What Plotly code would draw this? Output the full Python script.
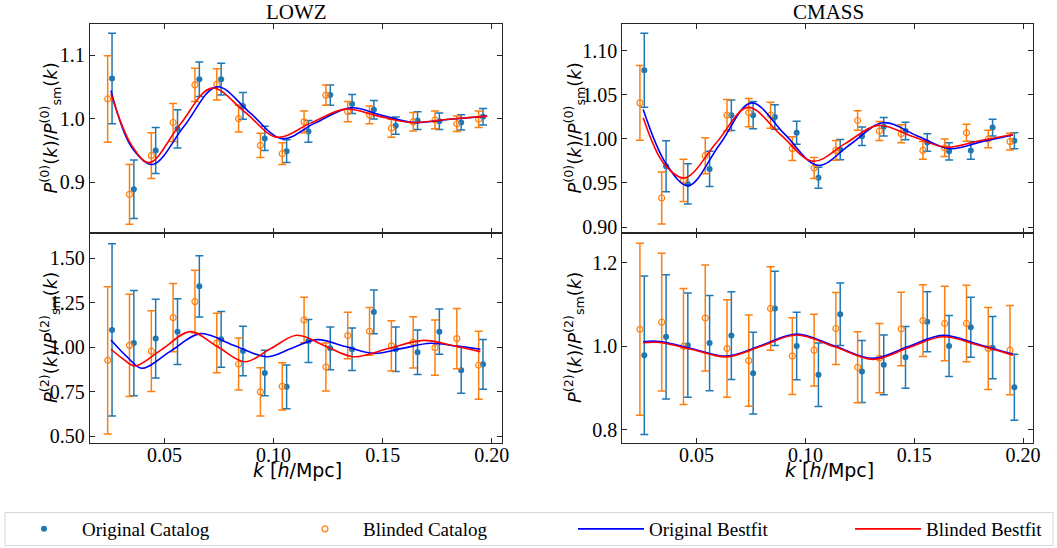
import plotly.graph_objects as go

# ---------------- data ----------------
k_orig = [0.026 + 0.01 * i for i in range(18)]
k_blind = [0.024 + 0.01 * i for i in range(18)]

# LOWZ monopole
lowz0_orig = [1.063, 0.889, 0.950, 0.984, 1.062, 1.062, 1.020, 0.969, 0.949, 0.980, 1.037, 1.023, 1.014, 0.989, 0.997, 0.996, 0.994, 1.003]
lowz0_orig_err = [0.071, 0.046, 0.036, 0.030, 0.027, 0.025, 0.021, 0.019, 0.018, 0.017, 0.016, 0.015, 0.0145, 0.0135, 0.014, 0.013, 0.012, 0.013]
lowz0_blind = [1.031, 0.881, 0.942, 0.994, 1.053, 1.054, 1.000, 0.958, 0.945, 0.995, 1.037, 1.011, 1.006, 0.985, 0.995, 0.998, 0.992, 0.999]
lowz0_blind_err = [0.068, 0.047, 0.036, 0.030, 0.026, 0.0245, 0.021, 0.019, 0.017, 0.017, 0.016, 0.016, 0.014, 0.014, 0.0145, 0.014, 0.012, 0.013]

# CMASS monopole
cmass0_orig = [1.078, 0.969, 0.949, 0.966, 1.027, 1.027, 1.025, 1.007, 0.956, 0.988, 1.003, 1.014, 1.009, 0.996, 0.986, 0.987, 1.013, 0.998]
cmass0_orig_err = [0.042, 0.029, 0.023, 0.020, 0.0174, 0.0155, 0.014, 0.013, 0.012, 0.0115, 0.0105, 0.0105, 0.010, 0.0098, 0.0098, 0.010, 0.0095, 0.009]
cmass0_blind = [1.041, 0.933, 0.953, 0.981, 1.027, 1.030, 1.027, 0.989, 0.967, 0.987, 1.021, 1.009, 1.006, 0.987, 0.990, 1.007, 1.000, 0.997]
cmass0_blind_err = [0.0425, 0.0295, 0.024, 0.0205, 0.0178, 0.016, 0.0147, 0.0135, 0.012, 0.0113, 0.011, 0.0108, 0.0103, 0.010, 0.010, 0.0096, 0.010, 0.0095]

# LOWZ quadrupole
lowz2_orig = [1.098, 1.024, 1.049, 1.088, 1.343, 1.045, 0.979, 0.856, 0.778, 1.036, 0.994, 0.989, 1.199, 0.989, 0.972, 1.088, 0.871, 0.904]
lowz2_orig_err = [0.485, 0.296, 0.222, 0.185, 0.172, 0.157, 0.139, 0.128, 0.123, 0.121, 0.120, 0.120, 0.123, 0.125, 0.125, 0.127, 0.129, 0.140]
lowz2_blind = [0.927, 1.011, 0.978, 1.167, 1.257, 1.024, 0.906, 0.749, 0.780, 1.154, 0.889, 1.066, 1.090, 1.008, 1.028, 0.998, 1.049, 0.899]
lowz2_blind_err = [0.414, 0.288, 0.227, 0.192, 0.177, 0.167, 0.146, 0.136, 0.133, 0.128, 0.135, 0.131, 0.134, 0.141, 0.144, 0.155, 0.169, 0.191]

# CMASS quadrupole
cmass2_orig = [0.978, 1.022, 1.002, 1.007, 1.025, 0.935, 1.090, 1.000, 0.931, 1.076, 0.939, 0.955, 0.973, 1.058, 1.000, 1.045, 0.996, 0.901]
cmass2_orig_err = [0.190, 0.149, 0.125, 0.114, 0.105, 0.098, 0.089, 0.081, 0.076, 0.075, 0.074, 0.0715, 0.074, 0.072, 0.073, 0.072, 0.0745, 0.079]
cmass2_blind = [1.040, 1.057, 0.999, 1.067, 0.994, 0.965, 1.090, 0.976, 0.990, 1.042, 0.949, 0.971, 1.041, 1.061, 1.054, 1.054, 0.994, 0.990]
cmass2_blind_err = [0.206, 0.165, 0.139, 0.127, 0.117, 0.109, 0.100, 0.092, 0.086, 0.086, 0.085, 0.083, 0.088, 0.086, 0.089, 0.0915, 0.098, 0.107]

# best-fit curves
lowz0_fit_k_o = [0.0255, 0.035, 0.0446, 0.059, 0.074, 0.089, 0.1038, 0.119, 0.1352, 0.150, 0.1642, 0.181, 0.1979]
lowz0_fit_o = [1.044, 0.955, 0.928, 0.988, 1.050, 1.010, 0.9686, 0.993, 1.017, 1.005, 0.994, 0.999, 1.004]
lowz0_fit_k_b = [0.0255, 0.035, 0.0431, 0.057, 0.0717, 0.087, 0.1015, 0.117, 0.1329, 0.148, 0.1627, 0.180, 0.1979]
lowz0_fit_b = [1.039, 0.958, 0.931, 0.990, 1.048, 1.010, 0.971, 0.993, 1.015, 1.004, 0.994, 0.999, 1.004]

cmass0_fit_k_o = [0.0255, 0.036, 0.0462, 0.0607, 0.0752, 0.0905, 0.1058, 0.1207, 0.1356, 0.151, 0.1662, 0.181, 0.1953]
cmass0_fit_o = [1.0336, 0.972, 0.947, 0.994, 1.041, 1.0055, 0.970, 0.994, 1.0185, 1.004, 0.989, 0.997, 1.0045]
cmass0_fit_k_b = [0.0255, 0.035, 0.0446, 0.0592, 0.0737, 0.0886, 0.1035, 0.1184, 0.1333, 0.149, 0.1647, 0.180, 0.1953]
cmass0_fit_b = [1.024, 0.972, 0.9558, 0.996, 1.0359, 1.005, 0.9747, 0.995, 1.0155, 1.003, 0.9906, 0.998, 1.005]

lowz2_fit_k_o = [0.0255, 0.033, 0.0396, 0.053, 0.0664, 0.0816, 0.0969, 0.1084, 0.1199, 0.133, 0.1459, 0.159, 0.1719, 0.183, 0.1948]
lowz2_fit_o = [1.041, 0.945, 0.882, 0.980, 1.077, 1.012, 0.947, 0.995, 1.043, 1.004, 0.966, 0.994, 1.0225, 1.008, 0.989]
lowz2_fit_k_b = [0.0255, 0.031, 0.0365, 0.049, 0.0618, 0.0744, 0.087, 0.0988, 0.1107, 0.1237, 0.1367, 0.1527, 0.1688, 0.182, 0.1948]
lowz2_fit_b = [0.989, 0.935, 0.895, 0.990, 1.088, 1.003, 0.919, 0.993, 1.0675, 1.007, 0.947, 0.993, 1.039, 1.010, 0.9756]

cmass2_fit_k_o = [0.0255, 0.0332, 0.0485, 0.0638, 0.080, 0.0959, 0.1135, 0.131, 0.147, 0.1631, 0.180, 0.1953]
cmass2_fit_o = [1.0104, 1.011, 0.993, 0.976, 1.002, 1.0287, 1.000, 0.9705, 0.998, 1.0255, 1.003, 0.980]
cmass2_fit_k_b = [0.0255, 0.0332, 0.0485, 0.0638, 0.080, 0.0959, 0.1135, 0.131, 0.147, 0.1631, 0.180, 0.1953]
cmass2_fit_b = [1.008, 1.0085, 0.991, 0.974, 1.000, 1.0263, 0.998, 0.968, 0.995, 1.0223, 1.001, 0.978]

titles = ["LOWZ", "CMASS"]
series_names = ["Original Catalog", "Blinded Catalog", "Original Bestfit", "Blinded Bestfit"]
xtick_vals = [0.05, 0.10, 0.15, 0.20]
xtick_text = ["0.05", "0.10", "0.15", "0.20"]

# ---------------- style ----------------
BLUE = "#1f77b4"
ORANGE = "#ff7f0e"
SERIF = "Liberation Serif, Times New Roman, serif"
SANS = "DejaVu Sans, sans-serif"
W, H = 1057, 548

fig = go.Figure()

panels = [
    ("x", "y", lowz0_orig, lowz0_orig_err, lowz0_blind, lowz0_blind_err, lowz0_fit_k_o, lowz0_fit_o, lowz0_fit_k_b, lowz0_fit_b),
    ("x2", "y2", lowz2_orig, lowz2_orig_err, lowz2_blind, lowz2_blind_err, lowz2_fit_k_o, lowz2_fit_o, lowz2_fit_k_b, lowz2_fit_b),
    ("x3", "y3", cmass0_orig, cmass0_orig_err, cmass0_blind, cmass0_blind_err, cmass0_fit_k_o, cmass0_fit_o, cmass0_fit_k_b, cmass0_fit_b),
    ("x4", "y4", cmass2_orig, cmass2_orig_err, cmass2_blind, cmass2_blind_err, cmass2_fit_k_o, cmass2_fit_o, cmass2_fit_k_b, cmass2_fit_b),
]

for i, (xa, ya, o, oe, b, be, fko, fo, fkb, fb) in enumerate(panels):
    first = i == 0
    fig.add_trace(go.Scatter(
        x=k_orig, y=o, xaxis=xa, yaxis=ya, mode="markers", name=series_names[0],
        legend="legend", showlegend=first,
        marker=dict(color=BLUE, size=6),
        error_y=dict(type="data", array=oe, color=BLUE, thickness=1.5, width=4),
    ))
    fig.add_trace(go.Scatter(
        x=k_blind, y=b, xaxis=xa, yaxis=ya, mode="markers", name=series_names[1],
        legend="legend2", showlegend=first,
        marker=dict(color=ORANGE, size=6, symbol="circle-open", line=dict(width=1.2, color=ORANGE)),
        error_y=dict(type="data", array=be, color=ORANGE, thickness=1.5, width=4),
    ))
    fig.add_trace(go.Scatter(
        x=fko, y=fo, xaxis=xa, yaxis=ya, mode="lines", name=series_names[2],
        legend="legend3", showlegend=first,
        line=dict(color="#0000ff", width=1.6, shape="spline", smoothing=1.0),
    ))
    fig.add_trace(go.Scatter(
        x=fkb, y=fb, xaxis=xa, yaxis=ya, mode="lines", name=series_names[3],
        legend="legend4", showlegend=first,
        line=dict(color="#ff0000", width=1.6, shape="spline", smoothing=1.0),
    ))

left_dom = [90 / W, 502 / W]
right_dom = [622.3 / W, 1033.3 / W]
top_dom = [1 - 233 / H, 1 - 24 / H]
bot_dom = [1 - 443.3 / H, 1 - 233 / H]

axis_common = dict(showline=True, mirror="ticks", ticks="inside", ticklen=5,
                   linecolor="#262626", tickcolor="#262626", linewidth=1.3, tickwidth=1,
                   showgrid=False, zeroline=False,
                   tickfont=dict(family=SERIF, size=20, color="black"))
xr = [0.0159, 0.2047]

legend_common = dict(orientation="h", xanchor="left", yanchor="middle", y=1 - 529 / H,
                     bgcolor="rgba(0,0,0,0)", borderwidth=0,
                     font=dict(family=SERIF, size=19, color="black"), itemwidth=66)

fig.update_layout(
    width=W, height=H, margin=dict(l=0, r=0, t=0, b=0, autoexpand=False),
    paper_bgcolor="white", plot_bgcolor="white",
    xaxis=dict(domain=left_dom, anchor="y", range=xr, tickvals=xtick_vals, showticklabels=False, **axis_common),
    yaxis=dict(domain=top_dom, anchor="x", range=[0.8204, 1.1487], tickvals=[0.9, 1.0, 1.1], tickformat=".1f", **axis_common),
    xaxis2=dict(domain=left_dom, anchor="y2", range=xr, tickvals=xtick_vals, ticktext=xtick_text, ticklabelstandoff=-6, **axis_common),
    yaxis2=dict(domain=bot_dom, anchor="x2", range=[0.46, 1.643], tickvals=[0.5, 0.75, 1.0, 1.25, 1.5], tickformat=".2f", **axis_common),
    xaxis3=dict(domain=right_dom, anchor="y3", range=xr, tickvals=xtick_vals, showticklabels=False, **axis_common),
    yaxis3=dict(domain=top_dom, anchor="x3", range=[0.8932, 1.1306], tickvals=[0.90, 0.95, 1.0, 1.05, 1.10], tickformat=".2f", **axis_common),
    xaxis4=dict(domain=right_dom, anchor="y4", range=xr, tickvals=xtick_vals, ticktext=xtick_text, ticklabelstandoff=-6, **axis_common),
    yaxis4=dict(domain=bot_dom, anchor="x4", range=[0.767, 1.2707], tickvals=[0.8, 1.0, 1.2], tickformat=".1f", **axis_common),
    legend=dict(x=6 / W, **legend_common),
    legend2=dict(x=287 / W, **legend_common),
    legend3=dict(x=573 / W, **legend_common),
    legend4=dict(x=850 / W, **legend_common),
    showlegend=True,
)

# legend frame
fig.add_shape(type="rect", xref="paper", yref="paper",
              x0=5 / W, x1=1053 / W, y0=1 - 545.5 / H, y1=1 - 512.5 / H,
              line=dict(color="#d6d6d6", width=1), fillcolor="rgba(0,0,0,0)", layer="below")

ylab0 = "<i>P</i><sup>(0)</sup>(<i>k</i>)/<i>P</i><sup>(0)</sup><sub>sm</sub>(<i>k</i>)"
ylab2 = "<i>P</i><sup>(2)</sup>(<i>k</i>)/<i>P</i><sup>(2)</sup><sub>sm</sub>(<i>k</i>)"
xlab = "<i>k</i> [<i>h</i>/Mpc]"

ann = []
for cx, title in zip([296, 828], titles):
    ann.append(dict(text=title, x=cx / W, y=1 - 12 / H, xref="paper", yref="paper",
                    xanchor="center", yanchor="middle",
                    showarrow=False, font=dict(family=SERIF, size=21, color="black")))
    ann.append(dict(text=xlab, x=(cx + 1) / W, y=1 - 470 / H, xref="paper", yref="paper",
                    xanchor="center", yanchor="middle",
                    showarrow=False, font=dict(family=SANS, size=19, color="black")))
for lx in [50, 574]:
    ann.append(dict(text=ylab0, x=lx / W, y=1 - 128.5 / H, xref="paper", yref="paper", textangle=-90,
                    xanchor="center", yanchor="middle",
                    showarrow=False, font=dict(family=SANS, size=18, color="black")))
    ann.append(dict(text=ylab2, x=lx / W, y=1 - 338 / H, xref="paper", yref="paper", textangle=-90,
                    xanchor="center", yanchor="middle",
                    showarrow=False, font=dict(family=SANS, size=18, color="black")))
fig.update_layout(annotations=ann)

fig.write_html("out.html", config={"displayModeBar": False},
               post_script="document.body.style.margin='0';document.body.style.overflow='hidden';")
